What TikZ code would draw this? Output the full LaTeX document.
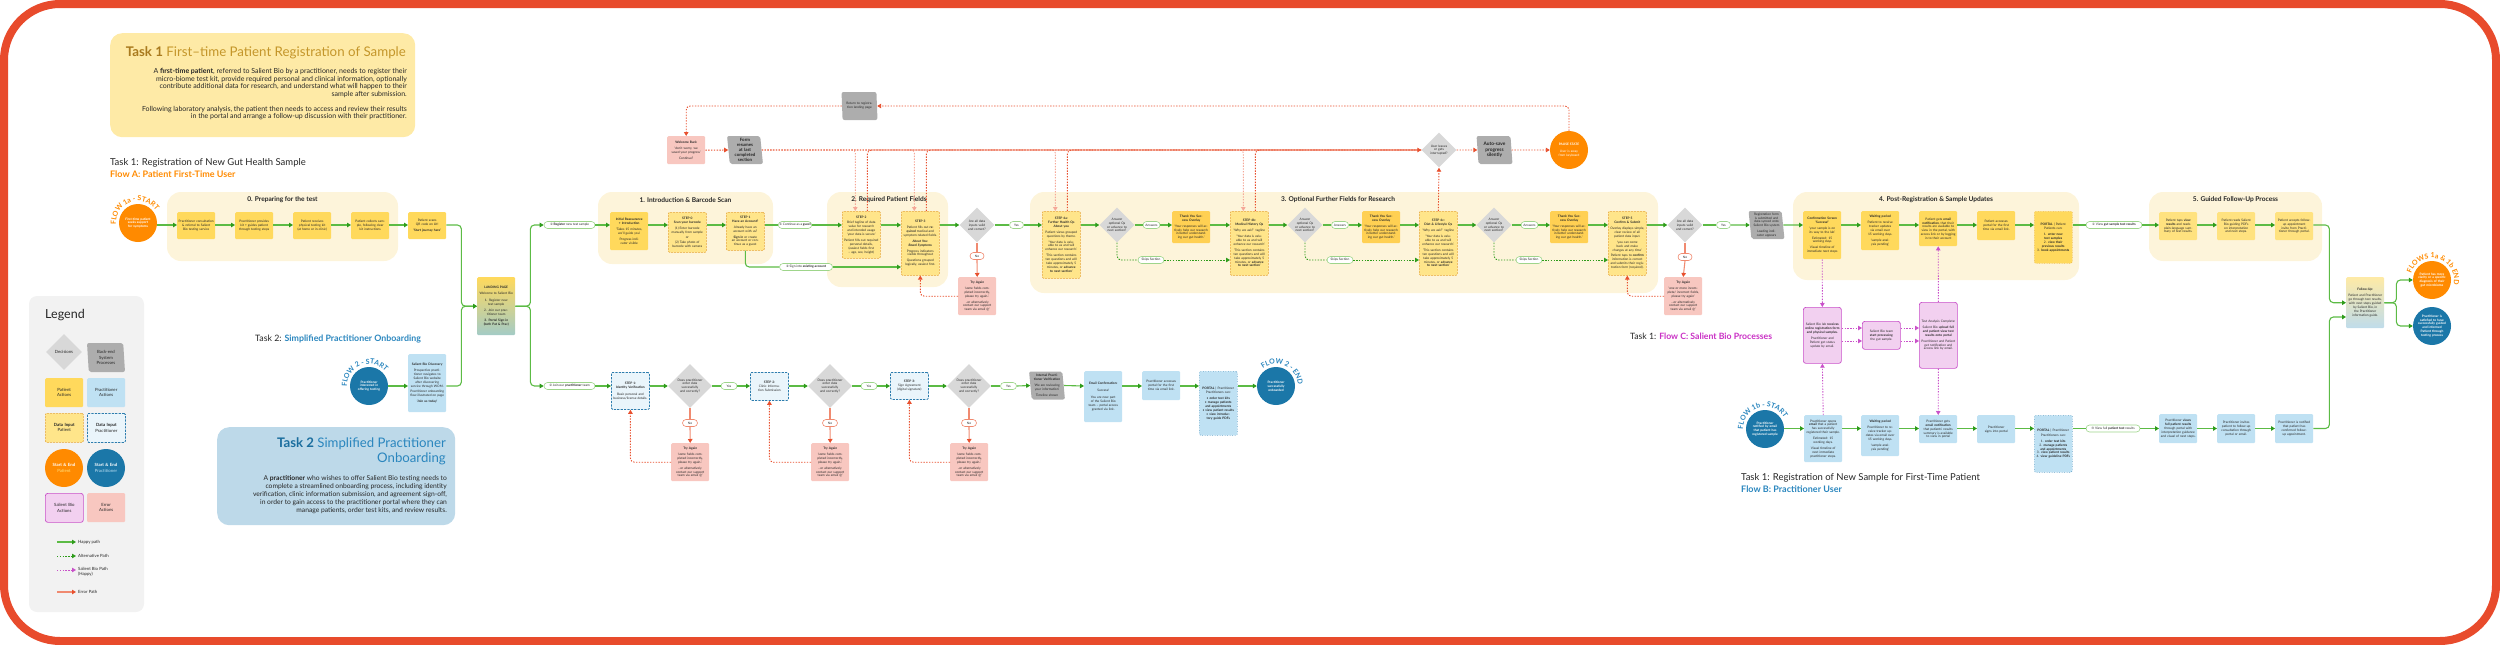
\documentclass[tikz,border=0pt]{standalone}
\usepackage{fontspec}
\setmainfont{Lato}
\newfontfamily\symfont{DejaVu Sans}
\usetikzlibrary{positioning,arrows.meta,shapes.geometric,decorations.text,calc}

\definecolor{frameR}{HTML}{E84B2C}
\definecolor{ink}{HTML}{262626}
\definecolor{patY}{HTML}{FFD95C}
\definecolor{patL}{HTML}{FFE27F}
\definecolor{inY}{HTML}{FFE58A}
\definecolor{inYb}{HTML}{E6A63A}
\definecolor{pracB}{HTML}{BFE1F3}
\definecolor{inB}{HTML}{EAF5FB}
\definecolor{inBb}{HTML}{2D7DAE}
\definecolor{orng}{HTML}{FF8A00}
\definecolor{blu}{HTML}{1B77A8}
\definecolor{bluT}{HTML}{2A86BE}
\definecolor{decG}{HTML}{D8D8D8}
\definecolor{backG}{HTML}{ADADAD}
\definecolor{sbF}{HTML}{F2D0F0}
\definecolor{sbB}{HTML}{C951C9}
\definecolor{sbT}{HTML}{C92FC4}
\definecolor{errF}{HTML}{F8C7C0}
\definecolor{errL}{HTML}{F08A70}
\definecolor{errD}{HTML}{E8502E}
\definecolor{errP}{HTML}{F5A898}
\definecolor{grn}{HTML}{5CBB45}
\definecolor{grnD}{HTML}{2E9C1B}
\definecolor{pillG}{HTML}{9ED58B}
\definecolor{secF}{HTML}{FDF4DA}
\definecolor{t1F}{HTML}{FEEAA6}
\definecolor{t1T}{HTML}{C4962A}
\definecolor{t1D}{HTML}{A97A1E}
\definecolor{t2F}{HTML}{BDD9E9}
\definecolor{t2D}{HTML}{1B6E9E}
\definecolor{legF}{HTML}{F2F2F2}
\definecolor{tealB}{HTML}{A3CBC6}
\definecolor{fuB}{HTML}{BFDCEB}

\newcommand{\fs}{\fontsize{3.2}{3.9}\selectfont}
\newcommand{\fl}{\fontsize{4.3}{5.3}\selectfont}
\newcommand{\cn}[1]{{\symfont #1}}

\begin{document}
\begin{tikzpicture}[
  x=1pt, y=1pt, font=\fs, text=ink,
  box/.style={rectangle, rounded corners=1.2pt, align=center, inner sep=1.5pt,
              anchor=north west, minimum width=38pt, text width=35pt},
  pat/.style={box, fill=patY},
  patl/.style={box, fill=patL},
  prac/.style={box, fill=pracB},
  inp/.style={box, fill=inY, draw=inYb, line width=0.6pt, dash pattern=on 2pt off 1pt},
  inpb/.style={box, fill=inB, draw=inBb, line width=0.8pt, dash pattern=on 2.2pt off 1.2pt},
  portp/.style={box, fill=patY, draw=inYb, line width=0.5pt, dotted},
  portb/.style={box, fill=pracB, draw=inBb, line width=0.5pt, dotted},
  err/.style={box, fill=errF},
  sb/.style={box, fill=sbF, draw=sbB, line width=0.7pt, rounded corners=2.5pt},
  dec/.style={diamond, aspect=1, fill=decG, inner sep=0pt, minimum width=35pt,
              minimum height=35pt, text width=21pt, align=center},
  bk/.style={trapezium, trapezium left angle=96, trapezium right angle=84,
             trapezium stretches=true, fill=backG, rounded corners=2pt, align=center,
             inner sep=1pt, text width=27pt, minimum width=36pt, minimum height=28pt},
  startO/.style={circle, fill=orng, text=white, minimum size=38pt, inner sep=0pt,
                 text width=28pt, align=center, font=\fs\bfseries},
  startB/.style={startO, fill=blu},
  pill/.style={rectangle, rounded corners=3.5pt, draw=pillG, line width=0.6pt, fill=white,
               inner sep=1pt, minimum height=7pt, align=center},
  npill/.style={pill, draw=errL},
  secbox/.style={fill=secF, rounded corners=14pt},
  sectitle/.style={font=\fontsize{6.6}{7.5}\selectfont\bfseries, text=ink},
  hp/.style={draw=grn, line width=1.1pt, rounded corners=4pt,
             -{Triangle[length=4pt, width=4.5pt, color=grnD]}},
  hl/.style={draw=grn, line width=1.1pt, rounded corners=4pt},
  alt/.style={draw=grnD, line width=0.9pt, dash pattern=on 1.4pt off 1.4pt, rounded corners=4pt},
  altA/.style={alt, -{Triangle[length=4pt, width=4.5pt, color=grnD]}},
  sbp/.style={draw=sbB, line width=0.9pt, dash pattern=on 1.4pt off 1.4pt,
              -{Triangle[length=4pt, width=4.5pt, color=sbB]}},
  erp/.style={draw=errL, line width=1.1pt},
  erpA/.style={erp, -{Triangle[length=4pt, width=4.5pt, color=errD]}},
  erd/.style={draw=errD, line width=0.9pt, dash pattern=on 1.4pt off 1.4pt, rounded corners=4pt},
  erdA/.style={erd, -{Triangle[length=4pt, width=4.5pt, color=errD]}},
  erl/.style={draw=errP, line width=0.9pt, dash pattern=on 1.4pt off 1.4pt, rounded corners=3pt,
              -{Triangle[length=4pt, width=4.5pt, color=errP]}},
  arcT/.style={decorate, decoration={text along path, text align=center, text color=#1}},
]
\useasboundingbox (0,0) rectangle (2500,-645);

% ---- frame ----
\draw[line width=8pt, draw=frameR, rounded corners=56pt] (4,-4) rectangle (2496,-641);

% row lines
\coordinate (r1) at (0,-225);
\coordinate (r2) at (0,-386);
\coordinate (r3) at (0,-428.5);
\coordinate (rc1) at (0,-328);
\coordinate (rc2) at (0,-341);
\coordinate (rfu) at (0,-317);

% ---- task 1 header ----
\node[fill=t1F, rounded corners=12pt, minimum width=305pt, minimum height=104pt, anchor=north west] (t1box) at (110,-33) {};
\node[anchor=north east, inner sep=0, font=\fontsize{13.3}{15}\selectfont, text=t1T] (t1title) at (406,-46)
  {\textcolor{t1D}{\textbf{Task 1}} First--time Patient Registration of Sample};
\node[anchor=north east, inner sep=0, align=right, font=\fontsize{7}{7.7}\selectfont] (t1text) at (407,-68)
  {A \textbf{first-time patient}, referred to Salient Bio by a practitioner, needs to register their\\
   micro-biome test kit, provide required personal and clinical information, optionally\\
   contribute additional data for research, and understand what will happen to their\\
   sample after submission.\\[7pt]
   Following laboratory analysis, the patient then needs to access and review their results\\
   in the portal and arrange a follow-up discussion with their practitioner.};

\node[anchor=north west, inner sep=0, font=\fontsize{9.5}{11}\selectfont] (lblA1) at (110,-158)
  {Task 1: Registration of New Gut Health Sample};
\node[anchor=north west, inner sep=0, font=\fontsize{9}{11}\selectfont\bfseries, text=orng] (lblA2) at (110,-171)
  {Flow A: Patient First-Time User};

% ---- section backgrounds ----
\path[secbox] (167,-192) rectangle (398,-261);
\path[secbox] (598,-192) rectangle (773,-264);
\path[secbox] (827,-192) rectangle (948,-287);
\path[secbox] (1030,-192) rectangle (1658,-293);
\path[secbox] (1793,-192) rectangle (2079,-280);
\path[secbox] (2149,-192) rectangle (2322,-261);
\node[sectitle] (sec0) at (282.5,-200) {0. Preparing for the test};
\node[sectitle] (sec1) at (685.5,-200) {1. Introduction \& Barcode Scan};
\node[sectitle] (sec2) at (889,-200) {2. Required Patient Fields};
\node[sectitle] (sec3) at (1338,-200) {3. Optional Further Fields for Research};
\node[sectitle] (sec4) at (1936,-200) {4. Post-Registration \& Sample Updates};
\node[sectitle] (sec5) at (2235.5,-200) {5. Guided Follow-Up Process};

% ---- flow A: 0. preparing ----
\node[startO] (s1a) at (138,-223) {First-time patient seeks support for symptoms};
\path[arcT=orng, decoration={text={|\bfseries\fontsize{7}{7}\selectfont|FLOW 1a - START}}]
  ($(s1a)+(205:22)$) arc[start angle=205, end angle=15, radius=22];
\node[pat, minimum height=27pt] (p1) at (177,-212) {Practitioner consultation \& referral to Salient Bio testing service};
\node[pat, minimum height=27pt] (p2) at (235,-212) {Practitioner provides kit + guides patient through testing steps};
\node[pat, minimum height=27pt] (p3) at (293,-212) {Patient receives physical testing kit (at home or in-clinic)};
\node[pat, minimum height=27pt] (p4) at (351,-212) {Patient collects sample, following clear kit instructions};
\node[pat, minimum height=27pt] (qr) at (408,-212) {Patient scans QR code on kit!\\[2pt]\textbf{`Start journey here'}};

% ---- landing page ----
\node[box, minimum height=58pt, top color=patY, bottom color=tealB] (lp) at (477,-277)
  {\textbf{LANDING PAGE}\\[2pt] Welcome to Salient Bio\\[3pt] 1. Register new test sample\\[2pt]
   2. Join our practitioner team\\[2pt] \textbf{3. Portal Sign-in (both Pat \& Prac)}};
\node[pill, minimum width=51pt] (pl1) at (569.5,-225) {\cn{①} \textbf{Register} new test sample};
\node[pill, minimum width=51pt] (pl2) at (569.5,-386) {\cn{②} Join our \textbf{practitioner} team};

% ---- 1. introduction ----
\node[pat, minimum height=38pt] (intro) at (610,-212)
  {\textbf{Initial Reassurance + Introduction}\\[2pt] `Takes 15 minutes, we'll guide you'\\[2pt] Progress indicator visible};
\node[inp, minimum height=40pt] (st0) at (668,-212)
  {\textbf{STEP 0}\\\textbf{Scan your barcode}\\[2pt] (1) Enter barcode manually from sample\\[1pt] or\\[1pt] (2) Take photo of barcode with camera};
\node[inp, minimum height=38pt] (st1) at (726,-212)
  {\textbf{STEP 1}\\\textbf{Have an Account?}\\[2pt] Already have an account with us?\\[2pt] \textbf{Sign in} or create an account or continue as a guest};
\node[pill, minimum width=32pt] (pl3) at (795,-225) {\cn{①} Continue as a \textbf{guest}};
\node[pill, minimum width=53pt] (pl4) at (806,-267) {\cn{②} Sign into \textbf{existing account}};

% ---- 2. required fields ----
\node[inp, minimum height=47pt] (st2) at (842,-211)
  {\textbf{STEP 2}\\[2pt] Brief tagline of data value for research and intended usage\\ `your data is secure'\\[2pt]
   Patient fills out required personal details, (easiest fields first -- age, sex, height)};
\node[inp, minimum height=64pt] (st3) at (901,-211)
  {\textbf{STEP 3}\\[2pt] Patient fills out \textbf{required} medical and symptom-related fields.\\[2pt]
   \textbf{\textit{About You: Bowel Symptoms}}\\[2pt] Progress indicators visible throughout\\[2pt] Questions grouped logically, easiest first.};
\node[dec] (dA) at (977,-225) {Are all data inputs valid and correct?};
\node[pill, minimum width=14pt] (yA) at (1016.5,-225) {Yes};
\node[npill, minimum width=14pt] (nA) at (977,-256) {No};
\node[err, minimum height=38pt] (tA) at (958,-277)
  {\textbf{Try Again}\\[2pt] `some fields completed incorrectly, please try again..'\\[2pt] ..or alternatively contact our support team via email @'};

% ---- 3. optional fields ----
\node[inp, minimum height=67pt] (st4a) at (1042,-211)
  {\textbf{STEP 4a:}\\\textbf{Further Health Qs}\\\textbf{About you}\\[2pt] Patient views grouped questions by theme.\\[2pt]
   `Your data is valuable to us and will enhance our research.'\\[2pt]
   `This section contains ten questions and will take approximately 5 minutes, or \textbf{advance to next section}'};
\node[dec] (dB) at (1117,-225) {Answer optional Qs or advance to next section?};
\node[pill, minimum width=17pt] (aB) at (1151.5,-225) {Answers};
\node[box, fill=patY!90!orange, minimum height=32pt] (tyB) at (1172,-211)
  {\textbf{Thank You Success Overlay}\\[2pt] `Your responses will actively help our research in better understanding our gut health.'};
\node[inp, minimum height=64pt] (st4b) at (1230,-211)
  {\textbf{STEP 4b:}\\\textbf{Medical History Qs}\\[2pt] `Why we ask?' tagline\\[2pt] `Your data is valuable to us and will enhance our research'\\[2pt]
   `This section contains ten questions and will take approximately 5 minutes, or \textbf{advance to next section}'};
\node[pill, minimum width=26pt] (kB) at (1151,-260) {Skips Section};
\node[dec] (dC) at (1305,-225) {Answer optional Qs or advance to next section?};
\node[pill, minimum width=17pt] (aC) at (1340,-225) {Answers};
\node[box, fill=patY!90!orange, minimum height=32pt] (tyC) at (1362,-211)
  {\textbf{Thank You Success Overlay}\\[2pt] `Your responses will actively help our research in better understanding our gut health.'};
\node[inp, minimum height=64pt] (st4c) at (1419,-211)
  {\textbf{STEP 4c:}\\\textbf{Diet \& Lifestyle Qs}\\[2pt] `Why we ask?' tagline\\[2pt] `Your data is valuable to us and will enhance our research.'\\[2pt]
   `This section contains ten questions and will take approximately 5 minutes, or \textbf{advance to next section}'};
\node[pill, minimum width=26pt] (kC) at (1340,-260) {Skips Section};
\node[dec] (dD) at (1494,-225) {Answer optional Qs or advance to next section?};
\node[pill, minimum width=17pt] (aD) at (1529.5,-225) {Answers};
\node[box, fill=patY!90!orange, minimum height=32pt] (tyD) at (1550,-211)
  {\textbf{Thank You Success Overlay}\\[2pt] `Your responses will actively help our research in better understanding our gut health.'};
\node[inp, minimum height=64pt] (st5) at (1608,-211)
  {\textbf{STEP 5}\\\textbf{Confirm \& Submit}\\[2pt] Overlay displays simple, clear review of all patient data input.\\[2pt]
   `you can come back and make changes at any time'\\[2pt] Patient taps to \textbf{confirm} information is correct and submits their registration form (required).};
\node[pill, minimum width=26pt] (kD) at (1529,-260) {Skips Section};

% ---- submit check ----
\node[dec] (dE) at (1685,-225) {Are all data inputs valid and correct?};
\node[pill, minimum width=14pt] (yE) at (1723.5,-225) {Yes};
\node[npill, minimum width=14pt] (nE) at (1685,-257) {No};
\node[err, minimum height=38pt] (tE) at (1664,-277)
  {\textbf{Try Again}\\[2pt] `one or more incomplete/ incorrect fields, please try again'\\[2pt] ...or alternatively contact our support team via email @'};
\node[bk] (sync) at (1766.5,-225)
  {Registration form is submitted and data synced onto Salient Bio system\\[2pt] Loading indicator appears};

% ---- 4. post-registration ----
\node[pat, minimum height=48pt] (conf) at (1803,-211)
  {\textbf{Confirmation Screen}\\\textbf{`Success!'}\\[2pt] `your sample is on its way to the lab'\\[2pt] Estimated: 15 working days\\[2pt] Visual timeline of immediate next steps};
\node[pat, minimum height=39pt] (wait) at (1861,-211)
  {\textbf{Waiting period}\\[2pt] Patient to receive tracker updates via email over 15 working days.\\[2pt] `sample analysis pending'};
\node[pat, minimum height=35pt] (pmail) at (1919,-211)
  {Patient gets \textbf{email notification}, that their results are available to view in the portal, with access link or by logging in to their account};
\node[pat, minimum height=29pt] (pacc) at (1977,-211) {Patient accesses portal for the first time via email link.};
\node[portp, minimum height=52pt] (pport) at (2034,-211)
  {\textbf{PORTAL} | Patient\\[1pt] Patients can:\\[2pt] 1. \textbf{enter new test samples}\\ 2. \textbf{view their previous results}\\ 3. \textbf{book appointments}};
\node[pill, minimum width=56pt] (pl5) at (2114,-225) {\cn{①} View \textbf{gut sample test results}};

% ---- 5. follow-up ----
\node[patl, minimum height=28pt] (f1) at (2159,-212) {Patient taps \textbf{view results} and reads plain-language summary of test results.};
\node[patl, minimum height=28pt] (f2) at (2217,-212) {Patient reads Salient Bio-guiding PDFs on interpretation and next steps.};
\node[patl, minimum height=28pt] (f3) at (2275,-212) {Patient accepts follow-up appointment invite from Practitioner through portal.};
\node[box, minimum height=51pt, top color=t1F, bottom color=fuB] (fu) at (2346,-277)
  {\textbf{Follow-Up:}\\[2pt] Patient and Practitioner go through test results, with next steps guided by Salient Bio, in the Practitioner information guide.};
\node[startO] (endO) at (2432,-280) {Patient has more clarity or a specific diagnosis of their gut microbiome};
\path[arcT=orng, decoration={text={|\bfseries\fontsize{7}{7}\selectfont|FLOWS 1a {\&} 1b END}}]
  ($(endO)+(175:22)$) arc[start angle=175, end angle=-25, radius=22];
\node[startB] (endB) at (2432,-326) {Practitioner is satisfied to have successfully guided and informed Patient through testing process};

% ---- flow C: salient bio ----
\node[anchor=west, inner sep=0, font=\fontsize{8.7}{10}\selectfont] (lblC) at (1630,-336)
  {Task 1: \textcolor{sbT}{\textbf{Flow C: Salient Bio Processes}}};
\node[sb, minimum height=56pt] (c1) at (1803,-307)
  {Salient Bio lab \textbf{receives online registration form and physical samples.}\\[2pt] Practitioner and Patient get status update by email.};
\node[sb, minimum height=28pt] (c2) at (1862,-321) {Salient Bio team \textbf{start processing} the gut sample.};
\node[sb, minimum height=66pt] (c3) at (1919,-302)
  {Test Analysis Complete:\\[2pt] Salient Bio \textbf{upload full and patient-view test results onto portal}\\[2pt] Practitioner and Patient get notification and access link by email.};

% ---- flow B: practitioner ----
\node[startB] (s1b) at (1765,-429) {Practitioner notified by email that patient has registered sample};
\path[arcT=bluT, decoration={text={|\bfseries\fontsize{7}{7}\selectfont|FLOW 1b - START}}]
  ($(s1b)+(200:22)$) arc[start angle=200, end angle=10, radius=22];
\node[prac, minimum height=47pt] (b1) at (1804,-415)
  {Practitioner opens \textbf{email} that a patient has successfully registered their sample.\\[2pt] Estimated: 15 working days.\\[2pt] Visual timeline of next immediate practitioner steps.};
\node[prac, minimum height=41pt] (b2) at (1861,-415)
  {\textbf{Waiting period}\\[2pt] Practitioner to receive tracker updates via email over 15 working days.\\[2pt] `sample analysis pending'};
\node[prac, minimum height=28pt] (b3) at (1919,-415)
  {Practitioner gets \textbf{email notification} that patients' results summary is available to view in portal};
\node[prac, minimum height=28pt] (b4) at (1977,-415) {Practitioner signs into portal};
\node[portb, minimum height=57pt] (b5) at (2034,-415)
  {\textbf{PORTAL} | Practitioner\\[1pt] Practitioners can:\\[2pt] 1. \textbf{order test kits}\\ 2. \textbf{manage patients and appointments}\\ 3. \textbf{view patient results}\\ 4. \textbf{view guideline PDFs}};
\node[pill, minimum width=54pt] (pl6) at (2113,-428.5) {\cn{③} View full \textbf{patient test} results};
\node[prac, minimum height=29pt] (g1) at (2159,-414)
  {Practitioner \textbf{views full patient results} through portal with interpretation guidance and visual of next steps.};
\node[prac, minimum height=29pt] (g2) at (2217,-414) {Practitioner invites patient to follow-up consultation through portal or email.};
\node[prac, minimum height=29pt] (g3) at (2275,-414) {Practitioner is notified that patient has confirmed follow-up appointment.};
\node[anchor=north west, inner sep=0, font=\fontsize{9.5}{11}\selectfont] (lblB1) at (1741,-473)
  {Task 1: Registration of New Sample for First-Time Patient};
\node[anchor=north west, inner sep=0, font=\fontsize{9}{11}\selectfont\bfseries, text=bluT] (lblB2) at (1741,-486)
  {Flow B: Practitioner User};

% ---- task 2: practitioner onboarding ----
\node[anchor=west, inner sep=0, font=\fontsize{8.8}{10}\selectfont] (lbl2) at (255,-339)
  {Task 2: \textcolor{bluT}{\textbf{Simplified Practitioner Onboarding}}};
\node[startB] (s2) at (369,-386) {Practitioner interested in offering testing};
\path[arcT=bluT, decoration={text={|\bfseries\fontsize{7}{7}\selectfont|FLOW 2 - START}}]
  ($(s2)+(207:22)$) arc[start angle=207, end angle=17, radius=22];
\node[prac, minimum height=58pt] (disc) at (408,-354)
  {\textbf{Salient Bio Discovery}\\[2pt] Prospective practitioner navigates to Salient Bio website after discovering service through WOM.\\[2pt]
   Practitioner onboarding flow illustrated on page\\[2pt] \textbf{`Join us today'}};
\node[fill=t2F, rounded corners=12pt, minimum width=238pt, minimum height=98pt, anchor=north west] (t2box) at (217,-427) {};
\node[anchor=north east, inner sep=0, align=right, font=\fontsize{13.2}{15}\selectfont, text=bluT] (t2title) at (446,-437)
  {\textcolor{t2D}{\textbf{Task 2}} Simplified Practitioner\\Onboarding};
\node[anchor=north east, inner sep=0, align=right, font=\fontsize{6.7}{8}\selectfont] (t2text) at (447,-475)
  {A \textbf{practitioner} who wishes to offer Salient Bio testing needs to\\
   complete a streamlined onboarding process, including identity\\
   verification, clinic information submission, and agreement sign-off,\\
   in order to gain access to the practitioner portal where they can\\
   manage patients, order test kits, and review results.};

\node[inpb, minimum height=37pt] (q1) at (611,-372)
  {\textbf{STEP 1:}\\\textbf{Identity Verification}\\[3pt] Basic personal and business/license details.};
\node[dec, minimum width=44pt, minimum height=44pt, text width=27pt] (dq1) at (690,-386) {Does practitioner enter data successfully and correctly?};
\node[pill, minimum width=16pt] (yq1) at (729,-386) {Yes};
\node[inpb, minimum height=28pt] (q2) at (750,-372) {\textbf{STEP 2:}\\ Clinic Information Submission};
\node[dec, minimum width=44pt, minimum height=44pt, text width=27pt] (dq2) at (830,-386) {Does practitioner enter data successfully and correctly?};
\node[pill, minimum width=16pt] (yq2) at (869,-386) {Yes};
\node[inpb, minimum height=27pt] (q3) at (890,-372) {\textbf{STEP 3:}\\ Sign Agreement (digital signature)};
\node[dec, minimum width=44pt, minimum height=44pt, text width=27pt] (dq3) at (969,-386) {Does practitioner enter data successfully and correctly?};
\node[pill, minimum width=16pt] (yq3) at (1008.5,-386) {Yes};
\node[bk] (ipv) at (1047,-385.5) {\textbf{Internal Practitioner Verification}\\[2pt] `We are reviewing your information'\\[2pt] Timeline shown};
\node[prac, minimum height=51pt] (ec) at (1084,-371)
  {\textbf{Email Confirmation:}\\[3pt] Success!\\[3pt] You are now part of the Salient Bio team -- portal access granted via link.};
\node[prac, minimum height=29pt] (pa) at (1142,-371) {Practitioner accesses portal for the first time via email link.};
\node[portb, minimum height=64pt] (pp) at (1199,-371)
  {\textbf{PORTAL} | Practitioner\\[1pt] Practitioners can:\\[2pt] \textbullet~\textbf{order test kits}\\ \textbullet~\textbf{manage patients and appointments}\\
   \textbullet~\textbf{view patient results}\\ \textbullet~\textbf{view introductory guide PDFs}};
\node[startB] (e2) at (1276,-386) {Practitioner successfully onboarded};
\path[arcT=bluT, decoration={text={|\bfseries\fontsize{7}{7}\selectfont|FLOW 2 - END}}]
  ($(e2)+(160:22)$) arc[start angle=160, end angle=-30, radius=22];
\node[npill, minimum width=15pt] (nq1) at (690,-423) {No};
\node[npill, minimum width=15pt] (nq2) at (830,-423) {No};
\node[npill, minimum width=15pt] (nq3) at (969,-423) {No};
\node[err, minimum height=38pt] (tq1) at (671,-443)
  {\textbf{Try Again}\\[2pt] `some fields completed incorrectly, please try again..'\\[2pt] ..or alternatively contact our support team via email @'};
\node[err, minimum height=38pt] (tq2) at (811,-443)
  {\textbf{Try Again}\\[2pt] `some fields completed incorrectly, please try again..'\\[2pt] ..or alternatively contact our support team via email @'};
\node[err, minimum height=38pt] (tq3) at (950,-443)
  {\textbf{Try Again}\\[2pt] `some fields completed incorrectly, please try again..'\\[2pt] ..or alternatively contact our support team via email @'};

% ---- pause / resume loop ----
\node[err, minimum height=28pt] (wb) at (667,-136) {\textbf{Welcome Back}\\[2pt] `don't worry, we saved your progress'\\[2pt] Continue?};
\node[bk, font=\fontsize{4.4}{5}\selectfont\bfseries] (fr) at (745,-150) {Form resumes at last completed section};
\node[bk] (ret) at (859.5,-106) {Return to registration landing page};
\node[dec] (ul) at (1439,-150) {User leaves or gets interrupted?};
\node[bk, font=\fontsize{4.8}{5.5}\selectfont\bfseries] (as) at (1494.5,-150) {Auto-save progress silently};
\node[startO] (ps) at (1569,-150) {PAUSE STATE\\[3pt] {\mdseries User is away from keyboard}};

% ---- legend ----
\path[fill=legF, rounded corners=8pt] (29,-296) rectangle (144,-612);
\node[anchor=west, inner sep=0, font=\fontsize{12.5}{14}\selectfont] (legT) at (45,-315) {Legend};
\node[dec, minimum width=36pt, minimum height=36pt, font=\fl, text width=26pt] (lg1) at (64,-352) {Decisions};
\node[bk, font=\fl, minimum width=38pt, minimum height=29pt, text width=30pt] (lg2) at (106,-357.5) {Back-end System Processes};
\node[pat, minimum height=29pt, font=\fl] (lg3) at (45,-378) {Patient\\Actions};
\node[prac, minimum height=29pt, font=\fl] (lg4) at (87,-378) {Practitioner\\Actions};
\node[inp, minimum height=29pt, font=\fl] (lg5) at (45,-413) {\textbf{Data Input}\\Patient};
\node[inpb, minimum height=29pt, font=\fl] (lg6) at (87,-413) {\textbf{Data Input}\\Practitioner};
\node[startO, font=\fl] (lg7) at (64,-468) {\textbf{Start \& End}\\{\mdseries\color{patL}Patient}};
\node[startB, font=\fl] (lg8) at (106,-468) {\textbf{Start \& End}\\{\mdseries\color{pracB}Practitioner}};
\node[sb, minimum height=29pt, font=\fl] (lg9) at (45,-493) {Salient Bio\\Actions};
\node[err, minimum height=29pt, font=\fl] (lg10) at (87,-493) {Error\\Actions};
\coordinate (lk1) at (57,-542);
\coordinate (lk2) at (57,-556);
\coordinate (lk3) at (57,-570);
\coordinate (lk4) at (57,-592);
\node[anchor=west, inner sep=0, font=\fl] (lh1) at (78,-542) {Happy path};
\node[anchor=west, inner sep=0, font=\fl] (lh2) at (78,-556) {Alternative Path};
\node[anchor=north west, inner sep=0, font=\fl, align=left] (lh3) at (78,-567) {Salient Bio Path\\(Happy)};
\node[anchor=west, inner sep=0, font=\fl] (lh4) at (78,-592) {Error Path};
\draw[hp] (lk1) -- ([xshift=-2pt]lh1.west);
\draw[altA] (lk2) -- ([xshift=-2pt]lh2.west);
\draw[sbp] (lk3) -- ([xshift=-2pt]lh3.west |- lk3);
\draw[erpA] (lk4) -- ([xshift=-2pt]lh4.west);

% ---- connectors: flow A ----
\draw[hp] (s1a.east |- r1) -- (p1.west |- r1);
\draw[hp] (p1.east |- r1) -- (p2.west |- r1);
\draw[hp] (p2.east |- r1) -- (p3.west |- r1);
\draw[hp] (p3.east |- r1) -- (p4.west |- r1);
\draw[hp] (p4.east |- r1) -- (qr.west |- r1);
\draw[hp] (qr.east |- r1) -- ++(15,0) |- (lp.west);
\draw[hp] (disc.east |- r2) -- ++(15,0) |- (lp.west);
\draw[hp] (lp.east) -- ++(15,0) |- (pl1.west);
\draw[hp] (lp.east) -- ++(15,0) |- (pl2.west);
\draw[hp] (pl1.east) -- (intro.west |- r1);
\draw[hp] (intro.east |- r1) -- (st0.west |- r1);
\draw[hp] (st0.east |- r1) -- (st1.west |- r1);
\draw[hl] (st1.east |- r1) -- (pl3.west);
\draw[hp] (pl3.east) -- (st2.west |- r1);
\draw[hl] (st1.south) |- (pl4.west);
\draw[hp] (pl4.east) -- (st3.west |- pl4.east);
\draw[hp] (st2.east |- r1) -- (st3.west |- r1);
\draw[hp] (st3.east |- r1) -- (dA.west);
\draw[hl] (dA.east) -- (yA.west);
\draw[hp] (yA.east) -- (st4a.west |- r1);
\draw[erp] (dA.south) -- (nA.north);
\draw[erpA] (nA.south) -- (tA.north);
\draw[erdA] (tA.west) -| (st3.south);
\draw[hp] (st4a.east |- r1) -- (dB.west);
\draw[hl] (dB.east) -- (aB.west);
\draw[hp] (aB.east) -- (tyB.west |- r1);
\draw[hp] (tyB.east |- r1) -- (st4b.west |- r1);
\draw[alt] (dB.south) |- (kB.west);
\draw[altA] (kB.east) -- (st4b.west |- kB.east);
\draw[hp] (st4b.east |- r1) -- (dC.west);
\draw[hl] (dC.east) -- (aC.west);
\draw[hp] (aC.east) -- (tyC.west |- r1);
\draw[hp] (tyC.east |- r1) -- (st4c.west |- r1);
\draw[alt] (dC.south) |- (kC.west);
\draw[altA] (kC.east) -- (st4c.west |- kC.east);
\draw[hp] (st4c.east |- r1) -- (dD.west);
\draw[hl] (dD.east) -- (aD.west);
\draw[hp] (aD.east) -- (tyD.west |- r1);
\draw[hp] (tyD.east |- r1) -- (st5.west |- r1);
\draw[alt] (dD.south) |- (kD.west);
\draw[altA] (kD.east) -- (st5.west |- kD.east);
\draw[hp] (st5.east |- r1) -- (dE.west);
\draw[hl] (dE.east) -- (yE.west);
\draw[hp] (yE.east) -- (sync.west);
\draw[erp] (dE.south) -- (nE.north);
\draw[erpA] (nE.south) -- (tE.north);
\draw[erdA] (tE.west) -| (st5.south);
\draw[hp] (sync.east) -- (conf.west |- r1);
\draw[hp] (conf.east |- r1) -- (wait.west |- r1);
\draw[hp] (wait.east |- r1) -- (pmail.west |- r1);
\draw[hp] (pmail.east |- r1) -- (pacc.west |- r1);
\draw[hp] (pacc.east |- r1) -- (pport.west |- r1);
\draw[hl] (pport.east |- r1) -- (pl5.west);
\draw[hp] (pl5.east) -- (f1.west |- r1);
\draw[hp] (f1.east |- r1) -- (f2.west |- r1);
\draw[hp] (f2.east |- r1) -- (f3.west |- r1);
\draw[hp] (f3.east |- r1) -- ++(16,0) |- (fu.west);
\draw[hp] (fu.east) -- ++(12,0) |- (endO.west);
\draw[hp] (fu.east) -- ++(12,0) |- (endB.west);

% ---- connectors: flows B and C ----
\draw[hp] (s1b.east |- r3) -- (b1.west |- r3);
\draw[hp] (b1.east |- r3) -- (b2.west |- r3);
\draw[hp] (b2.east |- r3) -- (b3.west |- r3);
\draw[hp] (b3.east |- r3) -- (b4.west |- r3);
\draw[hp] (b4.east |- r3) -- (b5.west |- r3);
\draw[hl] (b5.east |- r3) -- (pl6.west);
\draw[hp] (pl6.east) -- (g1.west |- r3);
\draw[hp] (g1.east |- r3) -- (g2.west |- r3);
\draw[hp] (g2.east |- r3) -- (g3.west |- r3);
\draw[hp] (g3.east |- r3) -- ++(16,0) |- (fu.west |- rfu);
\draw[sbp] (conf.south) -- (c1.north);
\draw[sbp] (b1.north) -- (c1.south);
\draw[sbp] (c1.east |- rc1) -- (c2.west |- rc1);
\draw[sbp] (c1.east |- rc2) -- (c2.west |- rc2);
\draw[sbp] (c2.east |- rc1) -- (c3.west |- rc1);
\draw[sbp] (c2.east |- rc2) -- (c3.west |- rc2);
\draw[sbp] (c3.north) -- (pmail.south);
\draw[sbp] (c3.south) -- (b3.north);

% ---- connectors: flow 2 ----
\draw[hp] (s2.east) -- (disc.west |- s2.east);
\draw[hp] (pl2.east) -- (q1.west |- r2);
\draw[hp] (q1.east |- r2) -- (dq1.west);
\draw[hl] (dq1.east) -- (yq1.west);
\draw[hp] (yq1.east) -- (q2.west |- r2);
\draw[hp] (q2.east |- r2) -- (dq2.west);
\draw[hl] (dq2.east) -- (yq2.west);
\draw[hp] (yq2.east) -- (q3.west |- r2);
\draw[hp] (q3.east |- r2) -- (dq3.west);
\draw[hl] (dq3.east) -- (yq3.west);
\draw[hp] (yq3.east) -- (ipv.west);
\draw[hp] (ipv.east) -- (ec.west |- r2);
\draw[hp] (ec.east |- r2) -- (pa.west |- r2);
\draw[hp] (pa.east |- r2) -- (pp.west |- r2);
\draw[hp] (pp.east |- r2) -- (e2.west);
\draw[erp] (dq1.south) -- (nq1.north);
\draw[erpA] (nq1.south) -- (tq1.north);
\draw[erdA] (tq1.west) -| (q1.south);
\draw[erp] (dq2.south) -- (nq2.north);
\draw[erpA] (nq2.south) -- (tq2.north);
\draw[erdA] (tq2.west) -| (q2.south);
\draw[erp] (dq3.south) -- (nq3.north);
\draw[erpA] (nq3.south) -- (tq3.north);
\draw[erdA] (tq3.west) -| (q3.south);

% ---- connectors: pause loop ----
\draw[erl] (fr.east) -| ([xshift=-6pt]st2.north);
\draw[erl] (fr.east) -| ([xshift=-6pt]st3.north);
\draw[erl] (fr.east) -| ([xshift=-6pt]st4a.north);
\draw[erl] (fr.east) -| ([xshift=-6pt]st4b.north);
\draw[erd] ([xshift=6pt]st2.north) |- (ul.west);
\draw[erd] ([xshift=6pt]st3.north) |- (ul.west);
\draw[erd] ([xshift=6pt]st4a.north) |- (ul.west);
\draw[erd] ([xshift=6pt]st4b.north) |- (ul.west);
\draw[erdA] (fr.east) -- (ul.west);
\draw[erdA] (st4c.north) -- (ul.south);
\draw[erdA] (ul.east) -- (as.west);
\draw[erdA] (as.east) -- (ps.west);
\draw[erdA] (ps.north) |- (ret.east);
\draw[erdA] (ret.west) -| (wb.north);
\draw[erdA] (wb.east) -- (fr.west);
\end{tikzpicture}
\end{document}
